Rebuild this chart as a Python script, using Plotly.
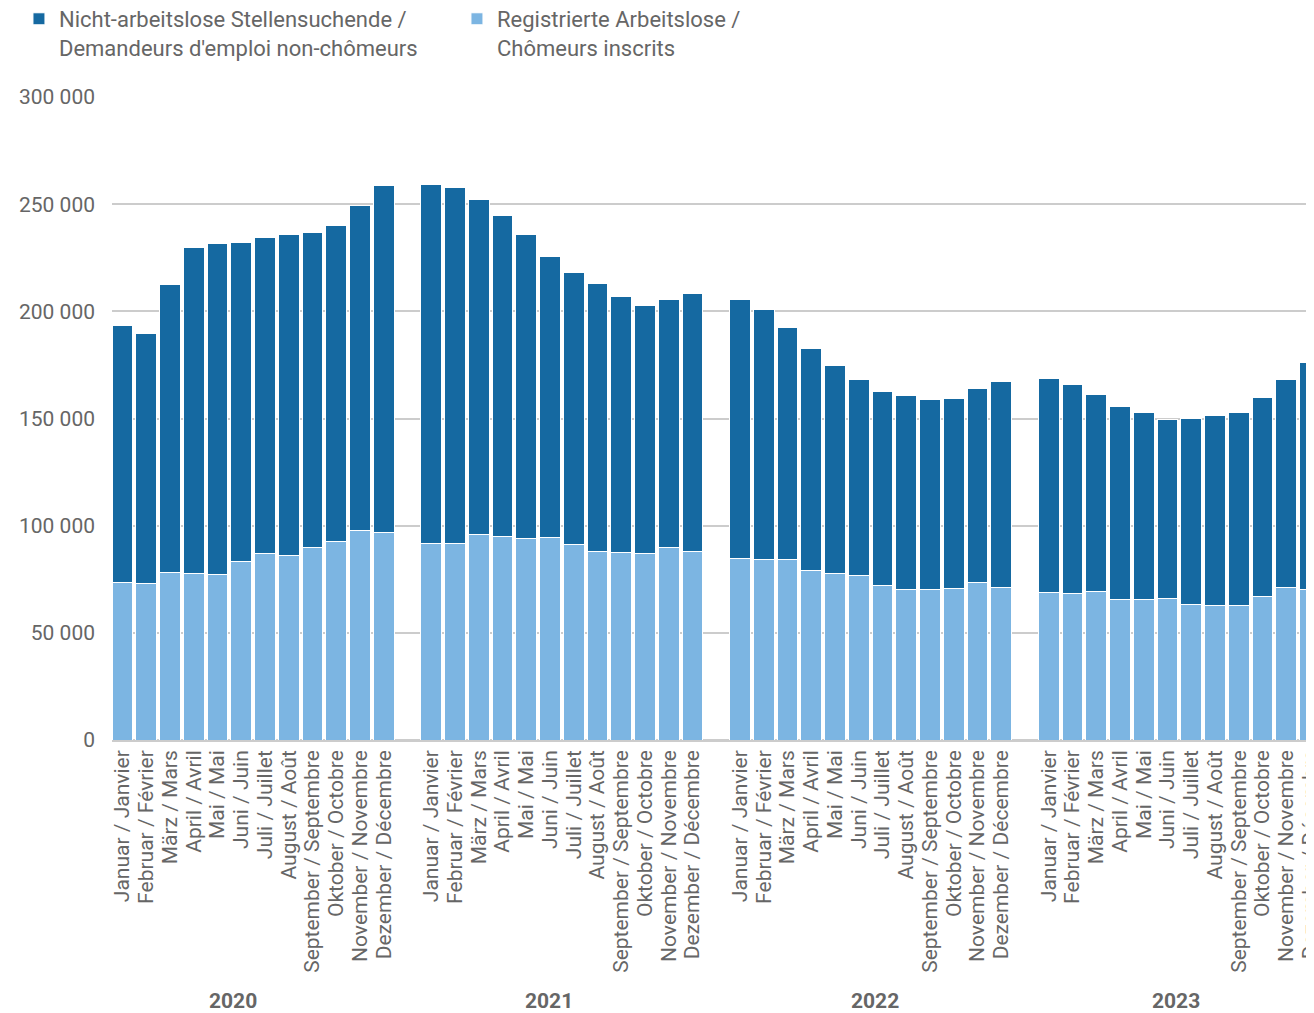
import plotly.graph_objects as go

years = ["2020", "2021", "2022", "2023"]
months = [
    "Januar / Janvier", "Februar / Février", "März / Mars", "April / Avril",
    "Mai / Mai", "Juni / Juin", "Juli / Juillet", "August / Août",
    "September / Septembre", "Oktober / Octobre", "November / Novembre",
    "Dezember / Décembre",
]

# Registrierte Arbeitslose / Chômeurs inscrits
registered = [
    73600, 73000, 78300, 77800, 77200, 83200, 87000, 86000, 89800, 92400, 97700, 96700,
    91600, 91600, 95800, 94900, 94200, 94700, 91000, 87900, 87700, 87000, 90000, 87900,
    84600, 84200, 84200, 78900, 77700, 76700, 72100, 70200, 70100, 70700, 73500, 71100,
    68600, 68200, 69100, 65600, 65400, 66100, 63200, 62600, 62900, 66900, 71000, 70000,
]
# Nicht-arbeitslose Stellensuchende / Demandeurs d'emploi non-chômeurs
non_unemployed = [
    119700, 116600, 134100, 151900, 154300, 148800, 147300, 149700, 146800, 147500, 151500, 161800,
    167800, 166000, 156200, 149600, 141500, 130800, 127000, 125000, 119100, 115700, 115500, 120300,
    120900, 116600, 108200, 103700, 97000, 91500, 90500, 90600, 88800, 88700, 90500, 96200,
    100000, 97600, 92100, 90000, 87400, 83600, 86600, 88800, 89900, 92900, 97200, 106100,
]

DARK = "#1569a1"
LIGHT = "#7cb5e2"
GREY = "#666666"
FONT = "Roboto"

# one empty slot between the years
positions = [g * 13 + m for g in range(len(years)) for m in range(len(months))]
tick_text = months * len(years)
# year labels in the original are not quite centred on their group
year_shift = [-20, -13, 4, -3]

fig = go.Figure()
fig.add_trace(
    go.Bar(
        x=positions,
        y=registered,
        name="Registrierte Arbeitslose /<br>Chômeurs inscrits",
        marker={"color": LIGHT, "line": {"color": "white", "width": 1}},
    )
)
fig.add_trace(
    go.Bar(
        x=positions,
        y=non_unemployed,
        name="Nicht-arbeitslose Stellensuchende /<br>Demandeurs d'emploi non-chômeurs",
        marker={"color": DARK, "line": {"color": "white", "width": 1}},
    )
)

for g, year in enumerate(years):
    fig.add_annotation(
        x=g * 13 + 5.5,
        y=-0.406,
        xref="x",
        yref="paper",
        xshift=year_shift[g],
        text=f"<b>{year}</b>",
        showarrow=False,
        yanchor="middle",
        font={"family": FONT, "size": 21, "color": GREY},
    )

# the page body adds 8px around the figure, so the figure is 8px smaller
fig.update_layout(
    width=1306,
    height=1005,
    barmode="stack",
    bargap=0.12,
    separators=", ",
    font={"family": FONT, "color": GREY},
    paper_bgcolor="white",
    plot_bgcolor="white",
    margin={"l": 104, "r": 0, "t": 89, "b": 273, "autoexpand": False},
    legend={
        "orientation": "h",
        "x": -0.0774,
        "y": 1.154,
        "xanchor": "left",
        "yanchor": "top",
        "traceorder": "reversed",
        "valign": "top",
        "entrywidth": 393,
        "font": {"family": FONT, "size": 22, "color": GREY},
    },
    xaxis={
        "range": [-0.44, 50.17],
        "tickmode": "array",
        "tickvals": positions,
        "ticktext": tick_text,
        "tickangle": -90,
        "tickfont": {"family": FONT, "size": 21, "color": GREY},
        "ticklabeloverflow": "allow",
        "ticklabelstandoff": 5,
        "showgrid": False,
        "showline": False,
        "zeroline": False,
        "ticks": "",
        "automargin": False,
    },
    yaxis={
        "range": [0, 300000],
        "tickvals": [0, 50000, 100000, 150000, 200000, 250000, 300000],
        "tickformat": ",d",
        "tickfont": {"family": FONT, "size": 21, "color": GREY},
        "gridcolor": "#cccccc",
        "gridwidth": 2,
        "zeroline": True,
        "zerolinecolor": "#cccccc",
        "zerolinewidth": 3,
        "ticklabelstandoff": 16,
        "automargin": False,
    },
)

fig.write_html("out.html")
